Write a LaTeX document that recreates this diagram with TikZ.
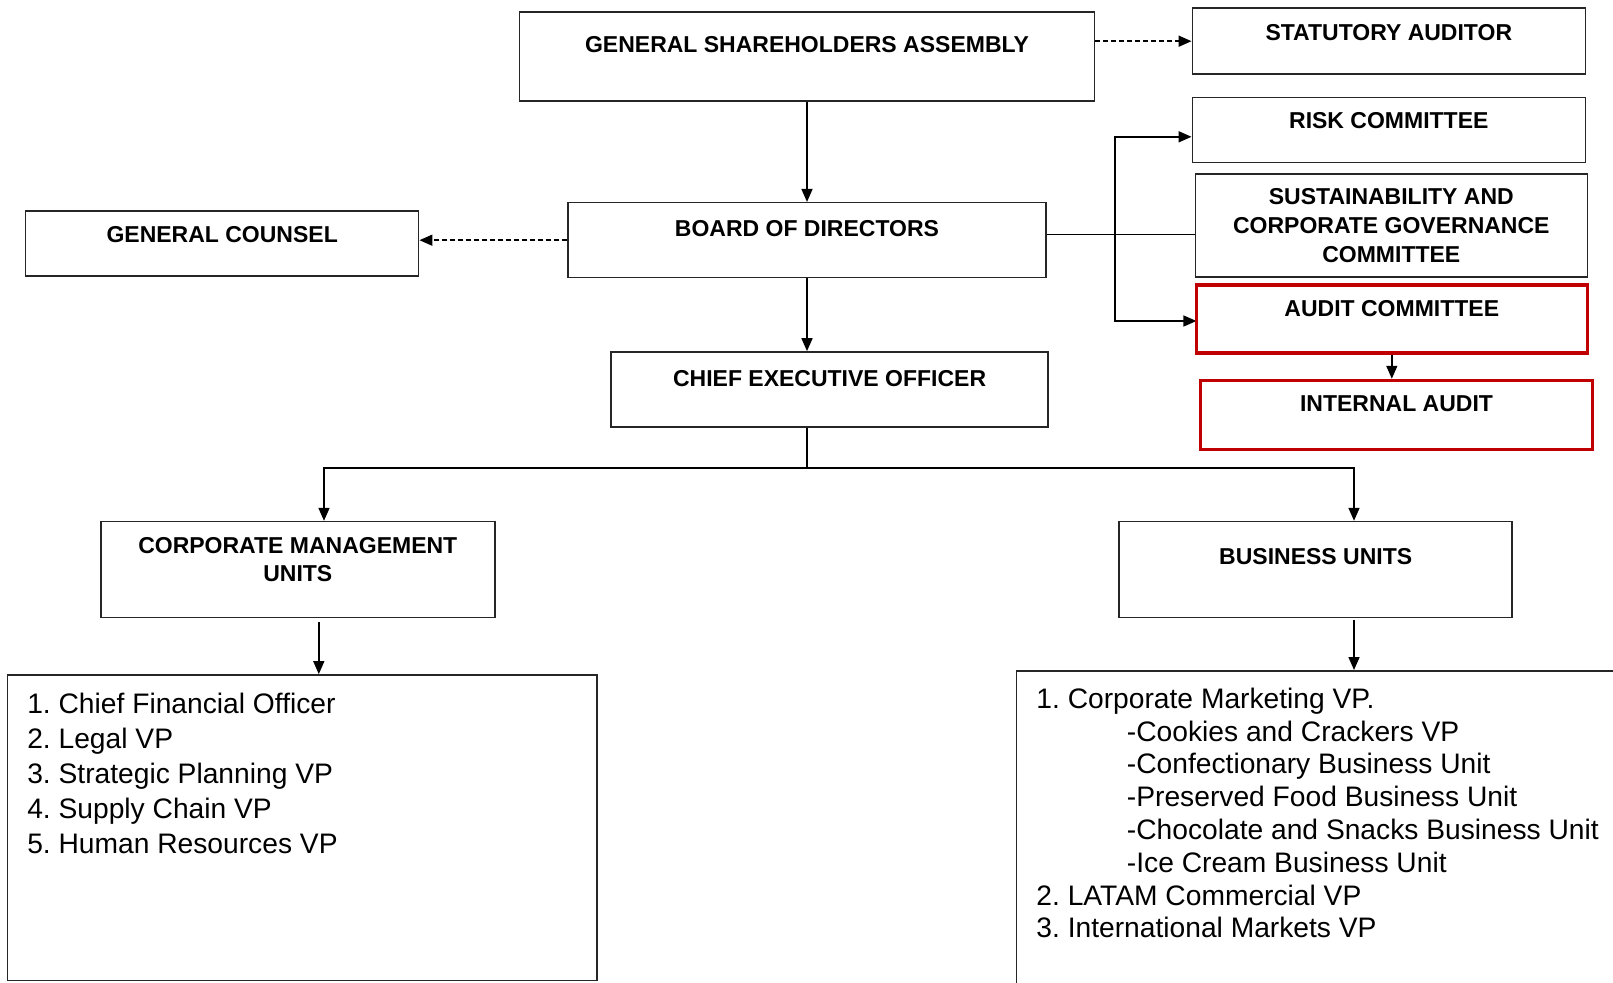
\documentclass[tikz,border=0pt]{standalone}
\usepackage{fontspec}
\setmainfont{Liberation Sans}
\usetikzlibrary{arrows.meta,positioning}
\definecolor{auditred}{RGB}{192,0,0}
\frenchspacing

\begin{document}
\begin{tikzpicture}[x=1pt, y=-1pt,  % 按像素坐标绘制
    box/.style={draw=black!85, line width=1.5pt, inner sep=0pt},
    redbox/.style={draw=auditred, line width=3.5pt, inner sep=0pt},
    title/.style={font=\bfseries\fontsize{23}{28.8}\selectfont, inner sep=0pt, align=center},
    items/.style={font=\fontsize{28.2}{35}\selectfont, inner sep=0pt, align=left, anchor=north west},
    conn/.style={line width=1.6pt},
    arr/.style={conn, -{Triangle[length=13pt,width=11pt]}},
    dblarr/.style={conn, {Triangle[length=13pt,width=11pt]}-{Triangle[length=13pt,width=11pt]}},
    dasharr/.style={arr, dash pattern=on 5pt off 3pt}]

    \useasboundingbox (0,0) rectangle (1613,982);
    \clip (0,0) rectangle (1613,982);

    % 绘制上层方框
    \node[box, minimum width=575pt, minimum height=88.5pt] (gsa) at (807,56.5) {}; % 股东大会
    \node[box, minimum width=393pt, minimum height=66pt] (stat) at (1388.8,41.2) {}; % 法定审计
    \node[box, minimum width=393pt, minimum height=65pt] (risk) at (1388.8,130.1) {}; % 风险委员会
    \node[box, title, minimum width=392pt, minimum height=103pt] (sust) at (1391.3,225.3) {SUSTAINABILITY AND\\CORPORATE GOVERNANCE\\COMMITTEE};
    \node[box, minimum width=393pt, minimum height=65pt] (gc) at (222.2,243.3) {}; % 法律顾问
    \node[box, minimum width=478pt, minimum height=75pt] (board) at (807,240.2) {}; % 董事会
    \node[box, minimum width=437pt, minimum height=75pt] (ceo) at (829.6,389.4) {}; % 首席执行官

    % 绘制下层方框
    \node[box, minimum width=394pt, minimum height=95.7pt] (cmu) at (297.8,569.4) {};
    \node[box, minimum width=393pt, minimum height=95.7pt] (bu) at (1315.7,569.4) {};
    \node[box, minimum width=589.5pt, minimum height=305.7pt] (cmlist) at (302,827.7) {};
    \node[box, minimum width=623.6pt, minimum height=339.3pt] (bulist) at (1328.2,840.4) {};

    % 方框标题
    \node[title, anchor=base] (gsa-t) at ([yshift=-41.2pt]gsa.north) {GENERAL SHAREHOLDERS ASSEMBLY};
    \node[title, anchor=base] (stat-t) at ([yshift=-33pt]stat.north) {STATUTORY AUDITOR};
    \node[title, anchor=base] (risk-t) at ([yshift=-32pt]risk.north) {RISK COMMITTEE};
    \node[title, anchor=base] (gc-t) at ([yshift=-32pt]gc.north) {GENERAL COUNSEL};
    \node[title, anchor=base] (board-t) at ([yshift=-35pt]board.north) {BOARD OF DIRECTORS};
    \node[title, anchor=base] (ceo-t) at ([yshift=-35pt]ceo.north) {CHIEF EXECUTIVE OFFICER};
    \node[title, below=16pt of cmu.north] (cmu-t) {CORPORATE MANAGEMENT\\UNITS};
    \node[title, anchor=base] (bu-t) at ([yshift=-44pt]bu.north) {BUSINESS UNITS};

    % 列表文字
    \node[items] (cmitems) at ([xshift=20.6pt,yshift=-18.6pt]cmlist.north west)
        {1. Chief Financial Officer\\2. Legal VP\\3. Strategic Planning VP\\4. Supply Chain VP\\5. Human Resources VP};
    \node[items, font=\fontsize{28.2}{32.8}\selectfont] (buitems) at ([xshift=20.6pt,yshift=-17.6pt]bulist.north west)
        {1. Corporate Marketing VP.\\
         \hspace*{90.5pt}-Cookies and Crackers VP\\
         \hspace*{90.5pt}-Confectionary Business Unit\\
         \hspace*{90.5pt}-Preserved Food Business Unit\\
         \hspace*{90.5pt}-Chocolate and Snacks Business Unit\\
         \hspace*{90.5pt}-Ice Cream Business Unit\\
         2. LATAM Commercial VP\\
         3. International Markets VP};

    % 连线
    \draw[dasharr] (stat.west -| gsa.east) -- (stat.west); % 虚线: 股东大会 -> 法定审计
    \draw[arr] (gsa) -- (board);
    \draw[dasharr] (board.west) -- (board.west -| gc.east); % 虚线: 董事会 -> 法律顾问
    \draw[arr] (board.south) -- (board.south |- ceo.north);

    \coordinate (bd) at ([yshift=5.7pt]board.east);
    \coordinate (bus) at (1115,234.5);
    \coordinate (riskin) at ([yshift=-6.7pt]risk.west);
    \coordinate (auditin) at ([yshift=-2.1pt]1196.4,318.9);
    \draw[conn] (bd) -- (bd -| sust.west);
    \draw[dblarr] (riskin) -| (bus) |- (auditin);

    \coordinate (split) at (807,468);
    \coordinate (jl) at (324,468);
    \coordinate (jr) at (1354,468);
    \draw[conn] (board.south |- ceo.south) -- (split);
    \draw[dblarr] (jl |- cmu.north) -- (jl) -- (jr) -- (jr |- bu.north);

    \coordinate (cmdrop) at ([xshift=21pt,yshift=-4pt]cmu.south);
    \coordinate (budrop) at ([xshift=38.3pt,yshift=-2pt]bu.south);
    \draw[arr] (cmdrop) -- (cmdrop |- cmlist.north);
    \draw[arr] (budrop) -- (budrop |- bulist.north);

    % 审计方框 (红色)
    \node[redbox, minimum width=391pt, minimum height=68pt] (audit) at (1391.8,318.9) {};
    \node[redbox, minimum width=392pt, minimum height=69pt] (internal) at (1396.5,415) {};
    \node[title, anchor=base] (audit-t) at ([yshift=-33pt]audit.north) {AUDIT COMMITTEE};
    \node[title, anchor=base] (internal-t) at ([yshift=-33pt]internal.north) {INTERNAL AUDIT};
    \draw[arr] (audit.south) -- (audit.south |- internal.north);

\end{tikzpicture}
\end{document}
